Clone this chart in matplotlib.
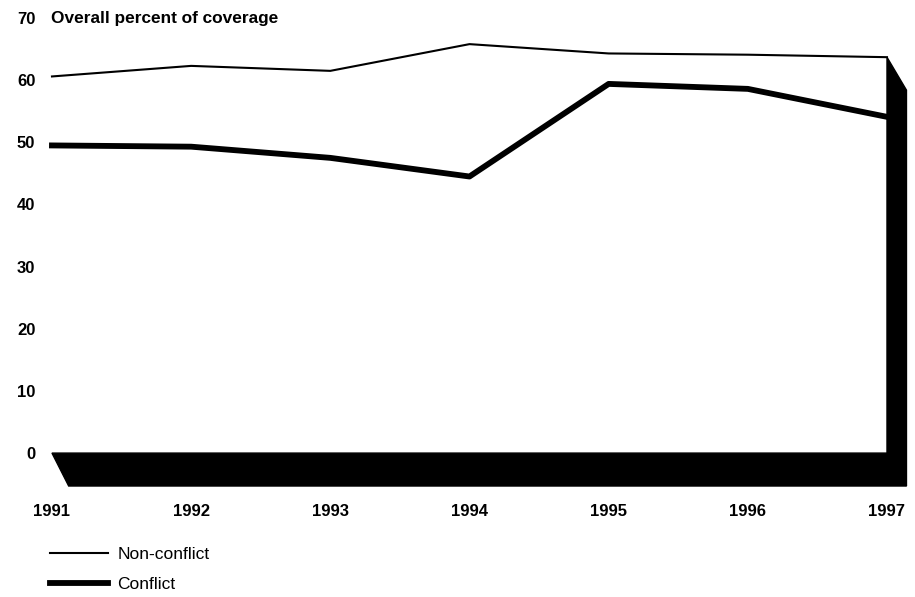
import matplotlib
matplotlib.use("Agg")
import matplotlib.pyplot as plt
from matplotlib.patches import Polygon

plt.rcParams['font.family'] = ['Liberation Sans', 'DejaVu Sans']

# Data
years = [1991, 1992, 1993, 1994, 1995, 1996, 1997]
non_conflict = [60.6, 62.3, 61.5, 65.8, 64.3, 64.1, 63.7]
conflict = [49.5, 49.3, 47.5, 44.5, 59.4, 58.6, 54.1]
y_ticks = [0, 10, 20, 30, 40, 50, 60, 70]

# 3D-ish floor / wall depth
depth_x = 0.14
depth_y = 5.3

fig = plt.figure(figsize=(9.15, 5.97), dpi=100)
ax = fig.add_axes([0.0568, 0.1859, 0.9354, 0.7839])
ax.set_xlim(years[0], years[-1] + depth_x + 0.01)
ax.set_ylim(-depth_y, 70)

# floor
floor = Polygon([(years[0], 0), (years[-1], 0),
                 (years[-1] + depth_x, -depth_y), (years[0] + 0.12, -depth_y)],
                closed=True, facecolor='black', edgecolor='black', clip_on=False)
ax.add_patch(floor)

# right wall
top = non_conflict[-1]
wall = Polygon([(years[-1], top), (years[-1] + depth_x, top - depth_y),
                (years[-1] + depth_x, -depth_y), (years[-1], 0)],
               closed=True, facecolor='black', edgecolor='black', clip_on=False)
ax.add_patch(wall)

ax.plot(years, non_conflict, color='black', lw=1.5, label='Non-conflict',
        clip_on=False, solid_joinstyle='round')
ax.plot(years, conflict, color='black', lw=4.2, label='Conflict',
        clip_on=False, solid_joinstyle='round')

for s in ax.spines.values():
    s.set_visible(False)

ax.set_yticks(y_ticks)
ax.set_yticklabels([str(v) for v in y_ticks], fontsize=12, fontweight='bold')
ax.set_xticks(years)
ax.set_xticklabels([str(y) for y in years], fontsize=12, fontweight='bold')
ax.tick_params(axis='y', length=0, pad=12)
ax.tick_params(axis='x', length=0, pad=13)

ax.text(years[0] - 0.01, 70, 'Overall percent of coverage', fontsize=12.4,
        fontweight='bold', va='center', ha='left')

leg = ax.legend(loc='upper left', bbox_to_anchor=(0.0546, 0.0838),
                bbox_transform=fig.transFigure, frameon=False, fontsize=12.5,
                handlelength=3.34, handletextpad=0.55, labelspacing=0.85,
                borderpad=0, borderaxespad=0)

fig.savefig('out.png', dpi=100)
